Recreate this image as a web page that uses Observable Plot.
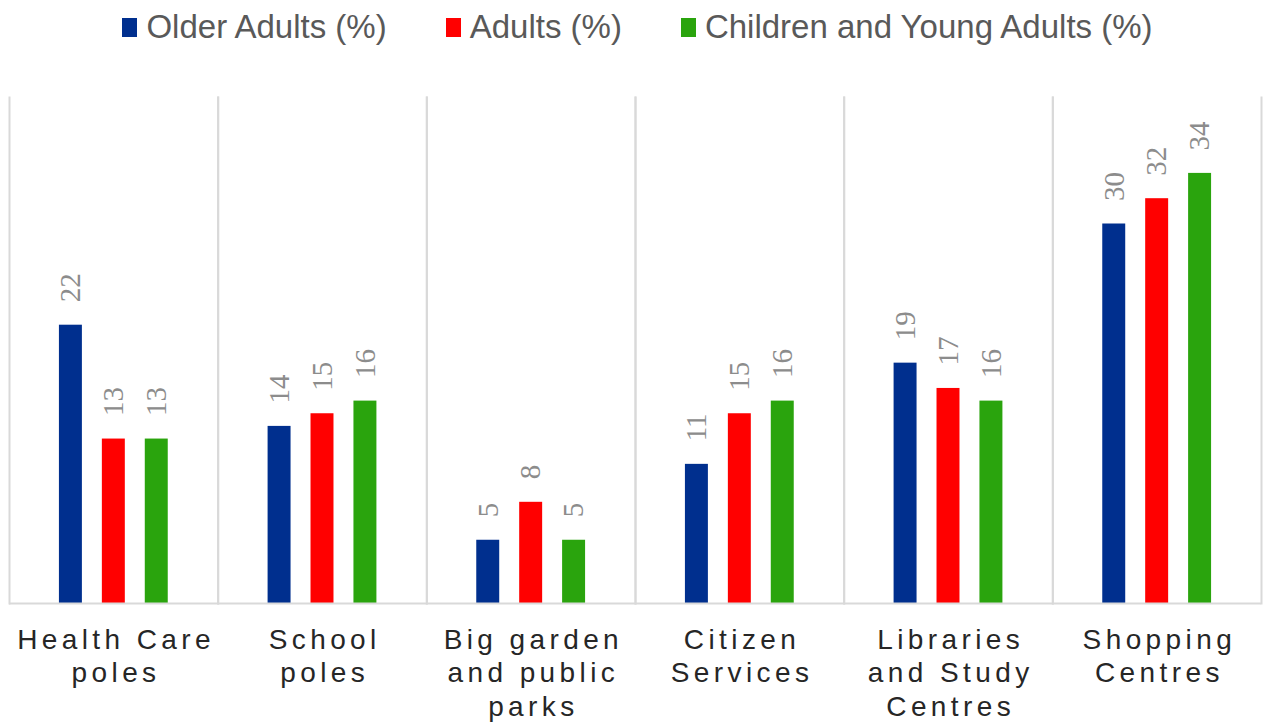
<!DOCTYPE html>
<html><head><meta charset="utf-8">
<script src="https://cdn.jsdelivr.net/npm/d3@7"></script>
<script src="https://cdn.jsdelivr.net/npm/@observablehq/plot@0.6"></script>
<style>
body{margin:0;background:#fff;font-family:"Liberation Sans",Arial,sans-serif;}
#legend{height:60px;width:1263px;display:flex;justify-content:center;align-items:center;gap:59px;padding-left:12px;padding-bottom:6px;box-sizing:border-box}
.item{display:flex;align-items:center;font-size:33px;color:#595959;white-space:nowrap}
.sw{width:15px;height:19px;margin-right:9px}
</style></head><body>
<div id="legend"></div>
<div id="chart"></div>
<script>
const categories = ["Health Care poles", "School poles", "Big garden and public parks", "Citizen Services", "Libraries and Study Centres", "Shopping Centres"];
const categoryLabels = ["Health Care\npoles", "School\npoles", "Big garden\nand public\nparks", "Citizen\nServices", "Libraries\nand Study\nCentres", "Shopping\nCentres"];
const series = ["Older Adults (%)", "Adults (%)", "Children and Young Adults (%)"];
const colors = ["#002f8e", "#ff0000", "#2aa40d"];
const olderAdults = [22, 14, 5, 11, 19, 30];
const adults = [13, 15, 8, 15, 17, 32];
const children = [13, 16, 5, 16, 16, 34];

const seriesValues = [olderAdults, adults, children];
const rows = [];
categories.forEach((c, i) => series.forEach((s, j) => rows.push({cat: c, series: s, value: seriesValues[j][i]})));

const legend = document.getElementById("legend");
series.forEach((s, j) => {
  const it = document.createElement("div"); it.className = "item";
  const sw = document.createElement("span"); sw.className = "sw"; sw.style.background = colors[j];
  const t = document.createElement("span"); t.textContent = s;
  it.appendChild(sw); it.appendChild(t); legend.appendChild(it);
});

const chart = Plot.plot({
  width: 1263, height: 662,
  marginLeft: 9, marginRight: 2, marginTop: 37, marginBottom: 119,
  fx: {domain: categories, padding: 0, round: false, axis: null},
  x: {domain: series, paddingInner: 0.465, paddingOuter: 1.163, round: false, axis: null},
  y: {domain: [0, 40], axis: null},
  color: {domain: series, range: colors},
  marks: [
    Plot.frame({anchor: "left", stroke: "#d9d9d9", strokeWidth: 2}),
    Plot.frame({anchor: "right", stroke: "#d9d9d9", strokeWidth: 2}),
    Plot.barY(rows, {fx: "cat", x: "series", y: "value", fill: "series"}),
    Plot.ruleY([0], {stroke: "#d9d9d9", strokeWidth: 2}),
    Plot.text(rows, {fx: "cat", x: "series", y: "value", text: d => String(d.value), rotate: -90, textAnchor: "start", dy: -23, fontFamily: "Liberation Serif", fontSize: 29, fill: "#8c8c8c"}),
    Plot.text(categories, {fx: d => d, text: (d, i) => categoryLabels[i], frameAnchor: "bottom", lineAnchor: "top", dy: 21, dx: 2.2, lineHeight: 1.21, fontFamily: "Liberation Sans", fontSize: 28, fill: "#262626"})
  ]
});
d3.select(chart).selectAll('g[font-family="Liberation Sans"] text').style("letter-spacing", "4.4px");
document.getElementById("chart").appendChild(chart);
</script>
</body></html>
